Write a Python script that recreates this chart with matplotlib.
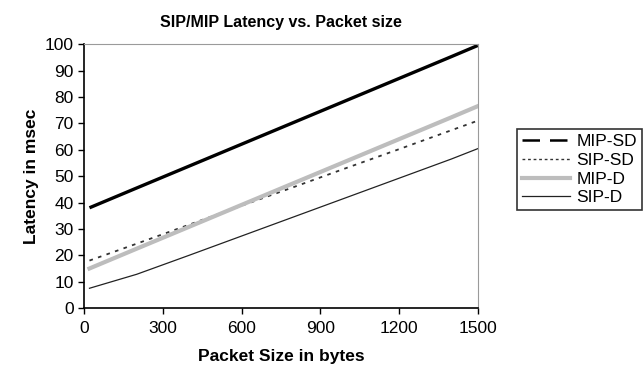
import matplotlib.pyplot as plt
from matplotlib.lines import Line2D

plt.rcParams['font.family'] = ['Liberation Sans', 'DejaVu Sans']

packet_size = [20, 200, 400, 600, 800, 1000, 1200, 1400, 1500]
mip_sd = [38.0, 45.5, 53.8, 62.1, 70.4, 78.7, 87.0, 95.3, 99.5]
sip_sd = [18.0, 24.4, 31.6, 38.8, 45.9, 53.1, 60.2, 67.4, 71.0]
mip_d = [15.0, 22.5, 30.8, 39.1, 47.4, 55.7, 64.0, 72.3, 76.5]
sip_d = [7.5, 12.8, 20.0, 27.3, 34.6, 41.9, 49.2, 56.5, 60.4]

x_ticks = [0, 300, 600, 900, 1200, 1500]
y_ticks = list(range(0, 101, 10))

fig = plt.figure(figsize=(6.43, 3.65), dpi=100)
ax = fig.add_axes([0.131, 0.156, 0.612, 0.723])

ax.plot(packet_size, mip_sd, color='black', lw=2.4, solid_capstyle='butt')
ax.plot(packet_size, sip_sd, color='#333333', lw=1.3, ls=(0, (2, 3)))
ax.plot(packet_size, mip_d, color='#bdbdbd', lw=3)
ax.plot(packet_size, sip_d, color='#222222', lw=0.9)

ax.set_xlim(0, 1500)
ax.set_ylim(0, 100)
ax.set_xticks(x_ticks)
ax.set_yticks(y_ticks)
ax.tick_params(direction='out', length=4, width=1, labelsize=12.5, colors='black')
ax.tick_params(axis='x', pad=5)

for s in ['top', 'right']:
    ax.spines[s].set_color('#9a9a9a')
for s in ['left', 'bottom']:
    ax.spines[s].set_color('black')
    ax.spines[s].set_linewidth(1.2)

ax.set_title('SIP/MIP Latency vs. Packet size', fontsize=11.5, fontweight='bold', pad=12)
ax.set_xlabel('Packet Size in bytes', fontsize=12.5, fontweight='bold', labelpad=10)
ax.set_ylabel('Latency in msec', fontsize=12.5, fontweight='bold', labelpad=4)

handles = [
    Line2D([], [], color='black', lw=1.8, ls=(0, (7, 4))),
    Line2D([], [], color='#333333', lw=1, ls=(0, (2, 2))),
    Line2D([], [], color='#bdbdbd', lw=3),
    Line2D([], [], color='#222222', lw=0.9),
]
leg = fig.legend(handles, ['MIP-SD', 'SIP-SD', 'MIP-D', 'SIP-D'],
                 loc='center right', bbox_to_anchor=(0.999, 0.535),
                 fontsize=12.5, frameon=True, fancybox=False,
                 handlelength=2.8, handletextpad=0.35, borderpad=0.3,
                 labelspacing=0.2, borderaxespad=0)
leg.get_frame().set_edgecolor('black')
leg.get_frame().set_linewidth(1.2)

fig.savefig('out.png', dpi=100)
